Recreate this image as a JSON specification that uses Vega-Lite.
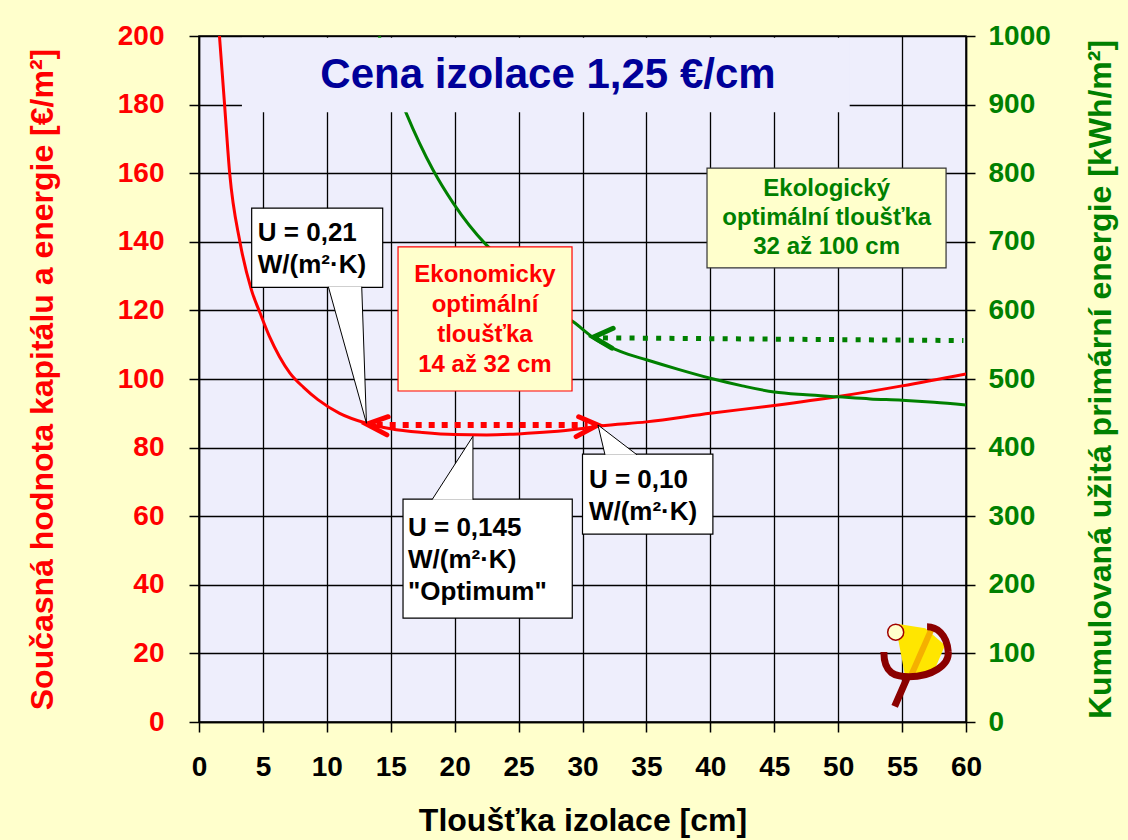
{
  "$schema": "https://vega.github.io/schema/vega-lite/v6.json",
  "width": 767,
  "height": 686,
  "autosize": {"type": "none"},
  "padding": {"left": 199, "top": 36, "right": 162, "bottom": 118},
  "background": "#FFFFCC",
  "config": {
    "font": "Liberation Sans",
    "view": {"fill": "#EEEEFC", "stroke": "#000000", "strokeWidth": 1.5}
  },
  "datasets": {
    "cost": [
      {"x": 1.6, "cost": 200}, {"x": 2.0, "cost": 180}, {"x": 2.4, "cost": 160}, {"x": 3.2, "cost": 140},
      {"x": 4.1, "cost": 126}, {"x": 4.8, "cost": 119}, {"x": 5.5, "cost": 112.5}, {"x": 6.3, "cost": 106.5},
      {"x": 7.1, "cost": 101.8}, {"x": 8.2, "cost": 97.5}, {"x": 9.3, "cost": 94}, {"x": 11, "cost": 90},
      {"x": 13.1, "cost": 87.1}, {"x": 15, "cost": 85.5}, {"x": 17.5, "cost": 84.4}, {"x": 20, "cost": 83.8},
      {"x": 22.5, "cost": 83.7}, {"x": 25, "cost": 84.0}, {"x": 27.5, "cost": 84.6}, {"x": 30, "cost": 85.6},
      {"x": 31.4, "cost": 86.3}, {"x": 35, "cost": 87.5}, {"x": 40, "cost": 90.0}, {"x": 45, "cost": 92.3},
      {"x": 50, "cost": 94.9}, {"x": 55, "cost": 98.0}, {"x": 60, "cost": 101.5}
    ],
    "energy": [
      {"x": 14.1, "energy": 1000}, {"x": 15.0, "energy": 945}, {"x": 16.2, "energy": 888}, {"x": 18.3, "energy": 805},
      {"x": 19.9, "energy": 756}, {"x": 22.4, "energy": 697}, {"x": 24, "energy": 670}, {"x": 26, "energy": 636},
      {"x": 28, "energy": 600}, {"x": 29.3, "energy": 583}, {"x": 31.1, "energy": 557}, {"x": 33, "energy": 540},
      {"x": 35, "energy": 528}, {"x": 37.5, "energy": 514}, {"x": 40, "energy": 501}, {"x": 42.5, "energy": 490},
      {"x": 45, "energy": 481}, {"x": 47.5, "energy": 477}, {"x": 50, "energy": 474}, {"x": 52.5, "energy": 471},
      {"x": 55, "energy": 469}, {"x": 57.5, "energy": 466}, {"x": 60, "energy": 462}
    ],
    "titleBox": [{"x": 3.36, "x2": 50.9, "y": 177.8, "y2": 199.5}],
    "titleText": [{"x": 27.3, "y": 188.6, "text": "Cena izolace 1,25 €/cm"}],
    "redShaft": [{"x": 13.9, "y": 86.6}, {"x": 30.4, "y": 86.6}],
    "redHeads": [
      {"arrow": "L", "o": 1, "x": 14.8, "y": 89.0}, {"arrow": "L", "o": 2, "x": 13.12, "y": 86.8}, {"arrow": "L", "o": 3, "x": 14.7, "y": 83.7},
      {"arrow": "R", "o": 1, "x": 29.7, "y": 89.0}, {"arrow": "R", "o": 2, "x": 31.2, "y": 86.6}, {"arrow": "R", "o": 3, "x": 29.5, "y": 83.2}
    ],
    "greenShaft": [{"x": 31.6, "energy": 560}, {"x": 59.8, "energy": 556}],
    "greenHead": [{"o": 1, "x": 32.4, "energy": 574}, {"o": 2, "x": 30.85, "energy": 561}, {"o": 3, "x": 32.3, "energy": 545}],
    "econBox": [{"x": 15.57, "x2": 29.18, "y": 96.5, "y2": 138.5}],
    "econText": [{"x": 22.37, "y": 130.3, "text": "Ekonomicky\noptimální\ntloušťka\n14 až 32 cm"}],
    "ecoBox": [{"x": 39.74, "x2": 58.44, "y": 132.4, "y2": 161.5}],
    "ecoText": [{"x": 49.1, "y": 155.4, "text": "Ekologický\noptimální tloušťka\n32 až 100 cm"}],
    "callouts": [
      {"id": "a", "x": 4.12, "x2": 14.37, "y": 126.7, "y2": 149.8},
      {"id": "b", "x": 15.96, "x2": 29.2, "y": 30.3, "y2": 65.0},
      {"id": "c", "x": 30.0, "x2": 40.2, "y": 54.8, "y2": 78.1}
    ],
    "pointers": [
      {"id": "a", "o": 1, "x": 10.12, "y": 126.9}, {"id": "a", "o": 2, "x": 13.1, "y": 87.1}, {"id": "a", "o": 3, "x": 12.73, "y": 126.9},
      {"id": "b", "o": 1, "x": 18.23, "y": 64.8}, {"id": "b", "o": 2, "x": 21.43, "y": 83.3}, {"id": "b", "o": 3, "x": 21.43, "y": 64.8},
      {"id": "c", "o": 1, "x": 31.76, "y": 77.9}, {"id": "c", "o": 2, "x": 31.21, "y": 86.6}, {"id": "c", "o": 3, "x": 34.26, "y": 77.9}
    ],
    "calloutText": [
      {"x": 4.6, "y": 142.6, "text": "U = 0,21\nW/(m²·K)"},
      {"x": 16.35, "y": 56.6, "text": "U = 0,145\nW/(m²·K)\n\"Optimum\""},
      {"x": 30.5, "y": 70.6, "text": "U = 0,10\nW/(m²·K)"}
    ],
    "logo": [{"x": 56.25, "y": 16.6}],
    "logoDot": [{"x": 54.5, "y": 26.2}]
  },
  "encoding": {
    "x": {
      "field": "x", "type": "quantitative",
      "scale": {"domain": [0, 60], "nice": false, "zero": false},
      "axis": {
        "values": [0, 5, 10, 15, 20, 25, 30, 35, 40, 45, 50, 55, 60],
        "title": "Tloušťka izolace [cm]",
        "grid": true, "gridColor": "#000000", "gridWidth": 1.3, "gridOpacity": 1,
        "domainColor": "#000000", "domainWidth": 1.5,
        "tickColor": "#000000", "tickSize": 10, "tickWidth": 1.5,
        "labelFont": "Liberation Sans", "labelFontSize": 28, "labelFontWeight": "bold", "labelColor": "#000000",
        "labelPadding": 21, "labelFlush": false, "labelOverlap": false,
        "titleFont": "Liberation Sans", "titleFontSize": 32, "titleFontWeight": "bold", "titleColor": "#000000",
        "titleX": 383.5, "titleY": 98, "titleBaseline": "middle", "titleAlign": "center"
      }
    }
  },
  "resolve": {"scale": {"y": "independent"}, "axis": {"y": "independent"}},
  "layer": [
    {
      "data": {"name": "cost"},
      "mark": {"type": "line", "color": "#FF0000", "strokeWidth": 3, "clip": true, "interpolate": "monotone"},
      "encoding": {
        "y": {
          "field": "cost", "type": "quantitative",
          "scale": {"domain": [0, 200], "nice": false, "zero": false},
          "axis": {
            "orient": "left",
            "values": [0, 20, 40, 60, 80, 100, 120, 140, 160, 180, 200],
            "title": "Současná hodnota kapitálu a energie [€/m²]",
            "grid": true, "gridColor": "#000000", "gridWidth": 1.3, "gridOpacity": 1,
            "domainColor": "#000000", "domainWidth": 1.5,
            "tickColor": "#000000", "tickSize": 10, "tickWidth": 1.5,
            "labelFont": "Liberation Sans", "labelFontSize": 28, "labelFontWeight": "bold", "labelColor": "#FF0000",
            "labelPadding": 25, "labelOverlap": false, "labelFlush": false,
            "titleFont": "Liberation Sans", "titleFontSize": 32, "titleFontWeight": "bold", "titleColor": "#FF0000",
            "titleAngle": -90, "titleX": -157, "titleY": 343, "titleBaseline": "middle", "titleAlign": "center"
          }
        }
      }
    },
    {
      "data": {"name": "energy"},
      "mark": {"type": "line", "color": "#008000", "strokeWidth": 3, "clip": true, "interpolate": "monotone"},
      "encoding": {
        "y": {
          "field": "energy", "type": "quantitative",
          "scale": {"domain": [0, 1000], "nice": false, "zero": false},
          "axis": {
            "orient": "right",
            "values": [0, 100, 200, 300, 400, 500, 600, 700, 800, 900, 1000],
            "format": "d",
            "title": "Kumulovaná užitá primární energie [kWh/m²]",
            "grid": false,
            "domainColor": "#000000", "domainWidth": 1.5,
            "tickColor": "#000000", "tickSize": 9, "tickWidth": 1.5,
            "labelFont": "Liberation Sans", "labelFontSize": 28, "labelFontWeight": "bold", "labelColor": "#008000",
            "labelPadding": 13, "labelOverlap": false, "labelFlush": false,
            "titleFont": "Liberation Sans", "titleFontSize": 32, "titleFontWeight": "bold", "titleColor": "#008000",
            "titleAngle": -90, "titleX": 134, "titleY": 343, "titleBaseline": "middle", "titleAlign": "center"
          }
        }
      }
    },
    {
      "data": {"name": "titleBox"},
      "mark": {"type": "rect", "fill": "#EEEEFC", "stroke": null},
      "encoding": {
        "x2": {"field": "x2"},
        "y": {"field": "y", "type": "quantitative", "scale": {"domain": [0, 200], "nice": false, "zero": false}, "axis": null},
        "y2": {"field": "y2"}
      }
    },
    {
      "data": {"name": "titleText"},
      "mark": {"type": "text", "font": "Liberation Sans", "fontSize": 42, "fontWeight": "bold", "fill": "#000099", "align": "center", "baseline": "middle"},
      "encoding": {
        "y": {"field": "y", "type": "quantitative", "scale": {"domain": [0, 200], "nice": false, "zero": false}, "axis": null},
        "text": {"field": "text"}
      }
    },
    {
      "data": {"name": "redShaft"},
      "mark": {"type": "line", "color": "#FF0000", "strokeWidth": 6, "strokeDash": [6, 7], "strokeCap": "butt"},
      "encoding": {
        "y": {"field": "y", "type": "quantitative", "scale": {"domain": [0, 200], "nice": false, "zero": false}, "axis": null}
      }
    },
    {
      "data": {"name": "redHeads"},
      "mark": {"type": "line", "color": "#FF0000", "strokeWidth": 5, "strokeJoin": "miter", "strokeCap": "round"},
      "encoding": {
        "y": {"field": "y", "type": "quantitative", "scale": {"domain": [0, 200], "nice": false, "zero": false}, "axis": null},
        "detail": {"field": "arrow"},
        "order": {"field": "o"}
      }
    },
    {
      "data": {"name": "greenShaft"},
      "mark": {"type": "line", "color": "#008000", "strokeWidth": 5, "strokeDash": [5, 8.3], "strokeCap": "butt"},
      "encoding": {
        "y": {"field": "energy", "type": "quantitative", "scale": {"domain": [0, 1000], "nice": false, "zero": false}, "axis": null}
      }
    },
    {
      "data": {"name": "greenHead"},
      "mark": {"type": "line", "color": "#008000", "strokeWidth": 5, "strokeJoin": "miter", "strokeCap": "round"},
      "encoding": {
        "y": {"field": "energy", "type": "quantitative", "scale": {"domain": [0, 1000], "nice": false, "zero": false}, "axis": null},
        "order": {"field": "o"}
      }
    },
    {
      "data": {"name": "econBox"},
      "mark": {"type": "rect", "fill": "#FFFFCC", "stroke": "#FF0000", "strokeWidth": 1.2},
      "encoding": {
        "x2": {"field": "x2"},
        "y": {"field": "y", "type": "quantitative", "scale": {"domain": [0, 200], "nice": false, "zero": false}, "axis": null},
        "y2": {"field": "y2"}
      }
    },
    {
      "data": {"name": "econText"},
      "mark": {"type": "text", "font": "Liberation Sans", "fontSize": 24, "fontWeight": "bold", "fill": "#FF0000", "align": "center", "baseline": "middle", "lineBreak": "\n", "lineHeight": 30},
      "encoding": {
        "y": {"field": "y", "type": "quantitative", "scale": {"domain": [0, 200], "nice": false, "zero": false}, "axis": null},
        "text": {"field": "text"}
      }
    },
    {
      "data": {"name": "ecoBox"},
      "mark": {"type": "rect", "fill": "#FFFFCC", "stroke": "#333333", "strokeWidth": 1.2},
      "encoding": {
        "x2": {"field": "x2"},
        "y": {"field": "y", "type": "quantitative", "scale": {"domain": [0, 200], "nice": false, "zero": false}, "axis": null},
        "y2": {"field": "y2"}
      }
    },
    {
      "data": {"name": "ecoText"},
      "mark": {"type": "text", "font": "Liberation Sans", "fontSize": 24, "fontWeight": "bold", "fill": "#008000", "align": "center", "baseline": "middle", "lineBreak": "\n", "lineHeight": 29},
      "encoding": {
        "y": {"field": "y", "type": "quantitative", "scale": {"domain": [0, 200], "nice": false, "zero": false}, "axis": null},
        "text": {"field": "text"}
      }
    },
    {
      "data": {"name": "callouts"},
      "mark": {"type": "rect", "fill": "#FFFFFF", "stroke": "#000000", "strokeWidth": 1.2},
      "encoding": {
        "x2": {"field": "x2"},
        "y": {"field": "y", "type": "quantitative", "scale": {"domain": [0, 200], "nice": false, "zero": false}, "axis": null},
        "y2": {"field": "y2"}
      }
    },
    {
      "data": {"name": "pointers"},
      "mark": {"type": "line", "fill": "#FFFFFF", "stroke": "#000000", "strokeWidth": 1, "strokeJoin": "miter"},
      "encoding": {
        "y": {"field": "y", "type": "quantitative", "scale": {"domain": [0, 200], "nice": false, "zero": false}, "axis": null},
        "detail": {"field": "id"},
        "order": {"field": "o"}
      }
    },
    {
      "data": {"name": "calloutText"},
      "mark": {"type": "text", "font": "Liberation Sans", "fontSize": 26, "fontWeight": "bold", "fill": "#000000", "align": "left", "baseline": "middle", "lineBreak": "\n", "lineHeight": 32},
      "encoding": {
        "y": {"field": "y", "type": "quantitative", "scale": {"domain": [0, 200], "nice": false, "zero": false}, "axis": null},
        "text": {"field": "text"}
      }
    },
    {
      "data": {"name": "logo"},
      "mark": {"type": "point", "shape": "M-0.44,-0.91 L0.16,-0.82 L0.6,-0.44 L0.38,0.07 L-0.07,0.24 L-0.29,0.24 L-0.44,-0.56 Z", "size": 8100, "filled": true, "fill": "#FFE600", "strokeWidth": 0, "opacity": 1},
      "encoding": {
        "y": {"field": "y", "type": "quantitative", "scale": {"domain": [0, 200], "nice": false, "zero": false}, "axis": null}
      }
    },
    {
      "data": {"name": "logo"},
      "mark": {"type": "point", "shape": "M-0.15,0.22 L0.3,-0.8", "size": 8100, "filled": false, "stroke": "#F5B000", "strokeWidth": 6, "opacity": 1},
      "encoding": {
        "y": {"field": "y", "type": "quantitative", "scale": {"domain": [0, 200], "nice": false, "zero": false}, "axis": null}
      }
    },
    {
      "data": {"name": "logo"},
      "mark": {"type": "point", "shape": "M-0.76,-0.29 C-0.76,0.2 -0.5,0.26 -0.2,0.26 C0.3,0.26 0.7,0 0.67,-0.3 C0.64,-0.7 0.4,-0.85 0.2,-0.85 M-0.24,0.28 L-0.52,0.92", "size": 8100, "filled": false, "stroke": "#8B0000", "strokeWidth": 7, "opacity": 1},
      "encoding": {
        "y": {"field": "y", "type": "quantitative", "scale": {"domain": [0, 200], "nice": false, "zero": false}, "axis": null}
      }
    },
    {
      "data": {"name": "logoDot"},
      "mark": {"type": "point", "shape": "circle", "size": 256, "filled": true, "fill": "#FFFFCC", "stroke": "#A00000", "strokeWidth": 1.5, "opacity": 1},
      "encoding": {
        "y": {"field": "y", "type": "quantitative", "scale": {"domain": [0, 200], "nice": false, "zero": false}, "axis": null}
      }
    }
  ]
}
